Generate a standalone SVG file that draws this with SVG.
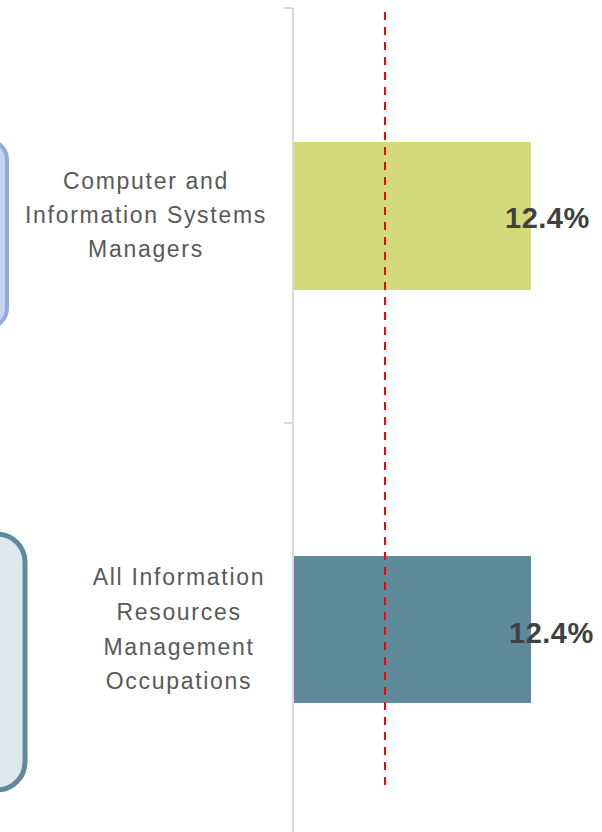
<svg xmlns="http://www.w3.org/2000/svg" width="602" height="832" viewBox="0 0 602 832">
<style>
.lbl{font-family:"Liberation Sans",Arial,sans-serif;font-size:23px;letter-spacing:1.7px;fill:#595959;text-anchor:middle}
.val{font-family:"Liberation Sans",Arial,sans-serif;font-size:29px;letter-spacing:0.5px;font-weight:bold;fill:#404040}
.axis{stroke:#d9d9d9;stroke-width:2;fill:none}
</style>
<rect width="602" height="832" fill="#ffffff"/>
<g id="box1"><rect x="-40" y="140" width="47" height="188" rx="20" fill="#c5d3ef" stroke="#8faadc" stroke-width="4"/></g>
<g id="box2"><rect x="-40" y="534" width="65" height="256" rx="28" fill="#dde8ee" stroke="#5f8a9b" stroke-width="5"/></g>
<g id="axis">
<path class="axis" d="M293 8V832M284 8H293M284 423H293"/>
</g>
<g id="bar1"><rect x="294" y="142" width="237" height="148" fill="#d3da7a"/></g>
<g id="bar2"><rect x="294" y="556" width="237" height="147" fill="#5f8a9b"/></g>
<g id="connectors">
<line x1="385" y1="12" x2="385" y2="792" stroke="#ff0000" stroke-width="2" stroke-dasharray="8 7"/>
</g>
<g id="label1">
<text class="lbl" x="146" y="189">Computer and</text>
<text class="lbl" x="146" y="223">Information Systems</text>
<text class="lbl" x="146" y="257">Managers</text>
</g>
<g id="label2">
<text class="lbl" x="179" y="585">All Information</text>
<text class="lbl" x="179" y="620">Resources</text>
<text class="lbl" x="179" y="655">Management</text>
<text class="lbl" x="179" y="689">Occupations</text>
</g>
<g id="value1"><text class="val" x="505" y="228">12.4%</text></g>
<g id="value2"><text class="val" x="509" y="643">12.4%</text></g>
</svg>
